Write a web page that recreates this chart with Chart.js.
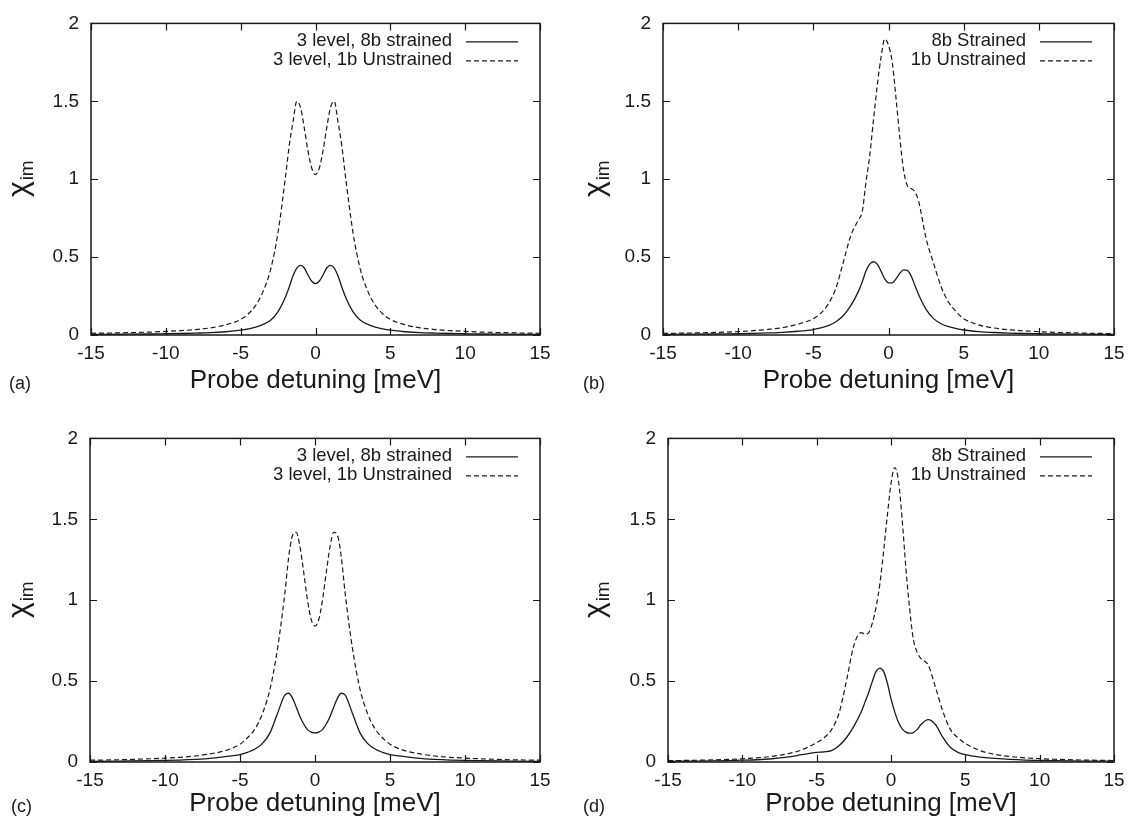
<!DOCTYPE html>
<html>
<head>
<meta charset="utf-8">
<script src="https://cdn.jsdelivr.net/npm/chart.js@4"></script>
<style>
  html, body { margin: 0; padding: 0; background: #fff; }
  #page { position: relative; width: 1136px; height: 831px; }
  .panel { position: absolute; }
</style>
</head>
<body>
<div id="page">
  <canvas id="chart-a" class="panel" width="568" height="415" style="left:0;top:0"></canvas>
  <canvas id="chart-b" class="panel" width="568" height="415" style="left:568px;top:0"></canvas>
  <canvas id="chart-c" class="panel" width="568" height="416" style="left:0;top:415px"></canvas>
  <canvas id="chart-d" class="panel" width="568" height="416" style="left:568px;top:415px"></canvas>
</div>
<script>
// probe detuning grid [meV], shared by every curve
const detuning = [-15, -13, -11, -10, -9, -8, -7, -6, -5, -4.5, -4, -3.5, -3, -2.5, -2, -1.75, -1.5, -1.25, -1, -0.75, -0.5, -0.25,
  0, 0.25, 0.5, 0.75, 1, 1.25, 1.5, 1.75, 2, 2.5, 3, 3.5, 4, 4.5, 5, 6, 7, 8, 9, 10, 11, 13, 15];

const xTickValues = [-15, -10, -5, 0, 5, 10, 15];
const yTickValues = [0, 0.5, 1, 1.5, 2];

// (a) 3 level
const aStrained = [0.004, 0.005, 0.0065, 0.008, 0.0095, 0.012, 0.015, 0.021, 0.031, 0.039, 0.05, 0.068, 0.095, 0.15, 0.245, 0.31, 0.38, 0.43, 0.447, 0.43, 0.385, 0.345,
  0.33, 0.345, 0.385, 0.43, 0.447, 0.43, 0.38, 0.31, 0.245, 0.15, 0.095, 0.068, 0.05, 0.039, 0.031, 0.021, 0.015, 0.012, 0.0095, 0.008, 0.0065, 0.005, 0.004];
const aUnstrained = [0.011, 0.014, 0.019, 0.023, 0.028, 0.035, 0.046, 0.065, 0.10, 0.135, 0.19, 0.28, 0.42, 0.66, 1.02, 1.22, 1.37, 1.5, 1.46, 1.33, 1.18, 1.07,
  1.03, 1.07, 1.18, 1.33, 1.46, 1.5, 1.37, 1.22, 1.02, 0.66, 0.42, 0.28, 0.19, 0.135, 0.10, 0.065, 0.046, 0.035, 0.028, 0.023, 0.019, 0.014, 0.011];

// (b)
const bStrained = [0.004, 0.005, 0.007, 0.008, 0.01, 0.013, 0.017, 0.024, 0.035, 0.045, 0.06, 0.085, 0.125, 0.19, 0.28, 0.34, 0.41, 0.455, 0.47, 0.455, 0.41, 0.36,
  0.335, 0.335, 0.36, 0.395, 0.418, 0.415, 0.38, 0.32, 0.26, 0.165, 0.105, 0.072, 0.053, 0.041, 0.032, 0.022, 0.016, 0.012, 0.0095, 0.008, 0.0065, 0.005, 0.004];
const bUnstrained = [0.01, 0.013, 0.018, 0.022, 0.028, 0.036, 0.048, 0.07, 0.105, 0.14, 0.2, 0.3, 0.47, 0.64, 0.74, 0.79, 0.98, 1.15, 1.38, 1.6, 1.78, 1.9,
  1.86, 1.75, 1.52, 1.27, 1.06, 0.96, 0.94, 0.92, 0.86, 0.62, 0.46, 0.31, 0.21, 0.15, 0.105, 0.065, 0.045, 0.034, 0.027, 0.021, 0.017, 0.012, 0.009];

// (c) 3 level
const cStrained = [0.004, 0.006, 0.008, 0.0095, 0.012, 0.016, 0.022, 0.033, 0.046, 0.06, 0.08, 0.115, 0.18, 0.3, 0.415, 0.425, 0.395, 0.34, 0.28, 0.235, 0.2, 0.185,
  0.18, 0.185, 0.2, 0.235, 0.28, 0.34, 0.395, 0.425, 0.415, 0.3, 0.18, 0.115, 0.08, 0.06, 0.046, 0.033, 0.022, 0.016, 0.012, 0.0095, 0.008, 0.006, 0.004];
const cUnstrained = [0.011, 0.014, 0.02, 0.024, 0.029, 0.037, 0.05, 0.07, 0.11, 0.15, 0.205, 0.30, 0.45, 0.70, 1.05, 1.27, 1.40, 1.42, 1.33, 1.17, 1.0, 0.88,
  0.84, 0.88, 1.0, 1.17, 1.33, 1.42, 1.40, 1.27, 1.05, 0.70, 0.45, 0.30, 0.205, 0.15, 0.11, 0.07, 0.05, 0.037, 0.029, 0.024, 0.02, 0.014, 0.011];

// (d)
const dStrained = [0.004, 0.006, 0.009, 0.011, 0.014, 0.02, 0.03, 0.045, 0.06, 0.063, 0.07, 0.1, 0.15, 0.22, 0.31, 0.37, 0.43, 0.5, 0.56, 0.58, 0.56, 0.49,
  0.39, 0.31, 0.245, 0.205, 0.185, 0.178, 0.182, 0.2, 0.23, 0.262, 0.23, 0.15, 0.09, 0.06, 0.045, 0.03, 0.022, 0.016, 0.012, 0.01, 0.008, 0.006, 0.005];
const dUnstrained = [0.008, 0.011, 0.016, 0.02, 0.026, 0.035, 0.05, 0.075, 0.12, 0.15, 0.2, 0.3, 0.5, 0.72, 0.8, 0.79, 0.8, 0.86, 0.96, 1.1, 1.3, 1.52,
  1.72, 1.82, 1.74, 1.5, 1.2, 0.95, 0.76, 0.68, 0.64, 0.6, 0.46, 0.31, 0.2, 0.15, 0.115, 0.07, 0.047, 0.034, 0.026, 0.021, 0.017, 0.012, 0.009];

const labels3Level = ['3 level, 8b strained', '3 level, 1b Unstrained'];
const labelsBands = ['8b Strained', '1b Unstrained'];

const FONT = '"Liberation Sans", Arial, Helvetica, sans-serif';
const INK = '#1a1a1a';
const DASH = [5, 3];

Chart.defaults.font.family = FONT;
Chart.defaults.color = INK;

function toPoints(values) {
  return detuning.map((x, i) => ({ x: x, y: values[i] }));
}

// gnuplot look: frame, inward mirrored ticks, legend, titles, panel tag
function gnuplotDecor(panel) {
  return {
    id: 'gnuplotDecor',
    afterDraw(chart) {
      const ctx = chart.ctx;
      const { left, top, right, bottom } = chart.chartArea;
      const xs = chart.scales.x;
      const ys = chart.scales.y;
      const tick = 7;

      ctx.save();
      ctx.strokeStyle = INK;
      ctx.lineWidth = 1.5;
      ctx.strokeRect(left, top, right - left, bottom - top);

      ctx.lineWidth = 1.2;
      ctx.beginPath();
      xTickValues.forEach((v) => {
        const px = Math.round(xs.getPixelForValue(v)) + 0.5;
        ctx.moveTo(px, bottom); ctx.lineTo(px, bottom - tick);
        ctx.moveTo(px, top); ctx.lineTo(px, top + tick);
      });
      yTickValues.forEach((v) => {
        const py = Math.round(ys.getPixelForValue(v)) + 0.5;
        ctx.moveTo(left, py); ctx.lineTo(left + tick, py);
        ctx.moveTo(right, py); ctx.lineTo(right - tick, py);
      });
      ctx.stroke();

      // legend, top right inside the frame
      ctx.font = '18.5px ' + FONT;
      ctx.fillStyle = INK;
      ctx.textAlign = 'right';
      ctx.textBaseline = 'middle';
      panel.labels.forEach((label, i) => {
        const y = top + 18 + i * 19;
        ctx.fillText(label, right - 88, y);
        ctx.setLineDash(i === 0 ? [] : DASH);
        ctx.lineWidth = 1.3;
        ctx.beginPath();
        ctx.moveTo(right - 74, y + 0.5);
        ctx.lineTo(right - 22, y + 0.5);
        ctx.stroke();
      });
      ctx.setLineDash([]);

      // x title
      ctx.font = '26px ' + FONT;
      ctx.textAlign = 'center';
      ctx.fillText('Probe detuning [meV]', (left + right) / 2, bottom + panel.titleGap);

      // panel tag
      ctx.font = '18px ' + FONT;
      ctx.textAlign = 'left';
      ctx.fillText(panel.tag, panel.tagX, bottom + panel.titleGap + 3);

      // y title: chi with subscript im, rotated
      ctx.translate(panel.yTitleX, (top + bottom) / 2);
      ctx.rotate(-Math.PI / 2);
      ctx.font = '30px ' + FONT;
      const chiW = ctx.measureText('χ').width;
      ctx.font = '19px ' + FONT;
      const subW = ctx.measureText('im').width;
      const x0 = -(chiW + subW) / 2;
      ctx.textAlign = 'left';
      ctx.textBaseline = 'alphabetic';
      ctx.font = '30px ' + FONT;
      ctx.fillText('χ', x0, 6);
      ctx.font = '19px ' + FONT;
      ctx.fillText('im', x0 + chiW + 1, 11);
      ctx.restore();
    },
  };
}

function buildChart(id, box, strained, unstrained, panel) {
  const canvas = document.getElementById(id);
  const W = canvas.width;
  const H = canvas.height;

  return new Chart(canvas.getContext('2d'), {
    type: 'line',
    data: {
      datasets: [
        {
          label: panel.labels[0],
          data: toPoints(strained),
          borderColor: INK,
          borderWidth: 1.3,
          pointRadius: 0,
          cubicInterpolationMode: 'monotone',
          fill: false,
        },
        {
          label: panel.labels[1],
          data: toPoints(unstrained),
          borderColor: INK,
          borderWidth: 1.2,
          borderDash: DASH,
          pointRadius: 0,
          cubicInterpolationMode: 'monotone',
          fill: false,
        },
      ],
    },
    options: {
      responsive: false,
      animation: false,
      events: [],
      layout: {
        padding: { left: 0, top: box.top, right: W - box.right, bottom: 0 },
      },
      plugins: {
        legend: { display: false },
        tooltip: { enabled: false },
      },
      scales: {
        x: {
          type: 'linear',
          min: -15,
          max: 15,
          grid: { display: false, drawTicks: false },
          border: { display: false },
          ticks: {
            stepSize: 5,
            padding: 7,
            maxRotation: 0,
            font: { size: 19 },
            color: INK,
            callback: (v) => String(v),
          },
          afterFit(scale) {
            scale.height = H - box.bottom;
          },
        },
        y: {
          type: 'linear',
          min: 0,
          max: 2,
          grid: { display: false, drawTicks: false },
          border: { display: false },
          ticks: {
            stepSize: 0.5,
            padding: 12,
            font: { size: 19 },
            color: INK,
            callback: (v) => String(v),
          },
          afterFit(scale) {
            scale.width = box.left;
          },
        },
      },
    },
    plugins: [gnuplotDecor(panel)],
  });
}

buildChart('chart-a', { left: 91, top: 10, right: 540, bottom: 335 }, aStrained, aUnstrained,
  { labels: labels3Level, tag: '(a)', tagX: 9, yTitleX: 22, titleGap: 46 });
buildChart('chart-b', { left: 95, top: 10, right: 546, bottom: 335 }, bStrained, bUnstrained,
  { labels: labelsBands, tag: '(b)', tagX: 15, yTitleX: 30, titleGap: 46 });
buildChart('chart-c', { left: 90, top: 22, right: 540, bottom: 347 }, cStrained, cUnstrained,
  { labels: labels3Level, tag: '(c)', tagX: 11, yTitleX: 22, titleGap: 42 });
buildChart('chart-d', { left: 100, top: 22, right: 546, bottom: 347 }, dStrained, dUnstrained,
  { labels: labelsBands, tag: '(d)', tagX: 15, yTitleX: 30, titleGap: 42 });
</script>
</body>
</html>
